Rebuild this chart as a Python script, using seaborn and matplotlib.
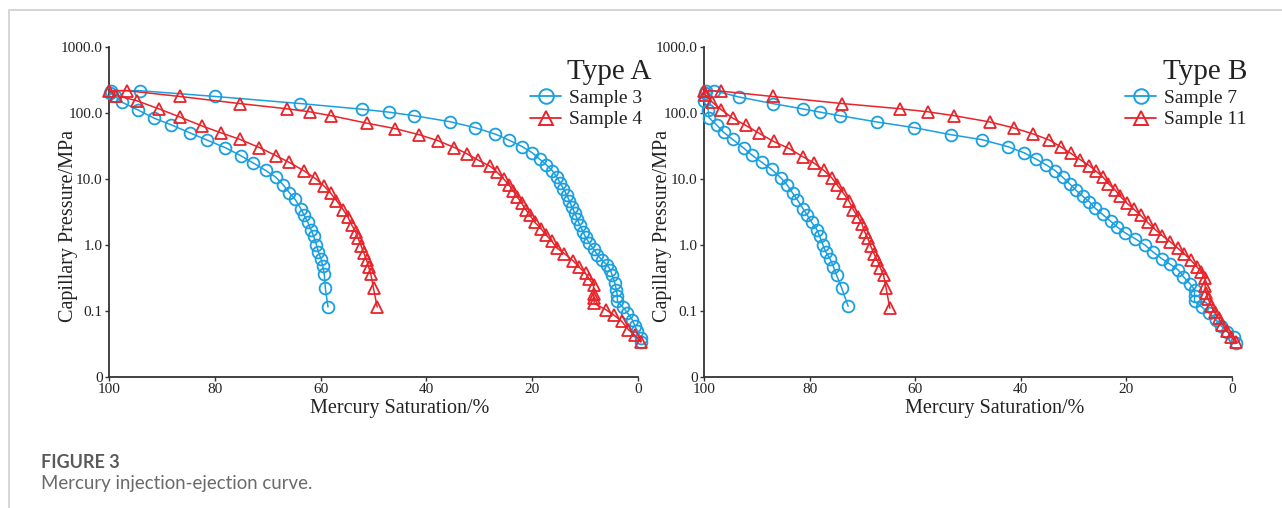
import matplotlib
matplotlib.use("Agg")
import matplotlib.pyplot as plt
from matplotlib.lines import Line2D
import seaborn as sns
import pandas as pd

# ---------------- data (saturation %, capillary pressure MPa) ----------------
S3_INJ = [(99.6, 218), (94.2, 218), (79.9, 178), (63.8, 139), (52.1, 114), (47.1, 103),
          (42.3, 91), (35.6, 74), (30.8, 60), (27.0, 48), (24.3, 38.5), (21.9, 31),
          (20.0, 25), (18.6, 20), (17.3, 16.3), (16.2, 13.4), (15.4, 10.8), (14.7, 8.7),
          (14.1, 7.1), (13.5, 5.8), (13.0, 4.7), (12.5, 3.8), (12.0, 3.1), (11.5, 2.5),
          (11.0, 2.0), (10.4, 1.6), (9.9, 1.3), (9.2, 1.07), (8.4, 0.87), (7.7, 0.71),
          (6.8, 0.59), (5.8, 0.49), (5.2, 0.42), (4.9, 0.35), (4.4, 0.27), (4.1, 0.21),
          (3.9, 0.17), (3.9, 0.14), (2.9, 0.115), (2.0, 0.094), (1.1, 0.074), (0.6, 0.060),
          (0.1, 0.049), (-0.5, 0.039), (-0.6, 0.034)]
S3_EJE = [(99.8, 200), (98.8, 178), (97.5, 145), (94.6, 112), (91.4, 83), (88.2, 66),
          (84.7, 50), (81.5, 39), (78.0, 29.8), (75.1, 22.6), (72.7, 17.4), (70.4, 13.5),
          (68.5, 10.7), (67.1, 8.2), (65.9, 6.2), (64.8, 4.9), (63.7, 3.5), (63.1, 2.8),
          (62.4, 2.2), (61.8, 1.7), (61.3, 1.35), (60.8, 1.01), (60.4, 0.78), (59.9, 0.61),
          (59.6, 0.48), (59.3, 0.36), (59.1, 0.22), (58.6, 0.115)]

S4_INJ = [(100, 218), (96.6, 218), (86.6, 178), (75.3, 139), (66.4, 116), (62.0, 104),
          (58.0, 91), (51.2, 70), (45.9, 58), (41.4, 47), (37.8, 38), (34.7, 30),
          (32.3, 24), (30.2, 19.3), (27.9, 15.5), (26.6, 12.6), (25.4, 10.0), (24.4, 8.2),
          (23.6, 6.6), (22.8, 5.3), (22.0, 4.3), (21.2, 3.4), (20.4, 2.8), (19.5, 2.2),
          (18.3, 1.75), (17.3, 1.40), (16.3, 1.15), (15.4, 0.91), (13.9, 0.74), (12.3, 0.58),
          (11.1, 0.46), (9.9, 0.37), (9.3, 0.31), (8.4, 0.25), (8.4, 0.18), (8.3, 0.16),
          (8.3, 0.13), (6.1, 0.105), (4.5, 0.086), (3.1, 0.070), (1.8, 0.052), (0.6, 0.043),
          (-0.5, 0.034)]
S4_EJE = [(98.6, 183), (94.8, 154), (90.5, 115), (86.6, 87), (82.5, 64), (78.8, 50),
          (75.3, 40), (71.6, 30), (68.4, 22.5), (65.9, 17.8), (63.2, 13.4), (61.0, 10.2),
          (59.4, 7.9), (58.1, 6.1), (57.0, 4.7), (55.7, 3.4), (54.9, 2.7), (54.1, 2.0),
          (53.4, 1.6), (52.9, 1.26), (52.3, 0.95), (51.8, 0.75), (51.3, 0.59), (50.9, 0.46),
          (50.5, 0.36), (50.0, 0.22), (49.3, 0.115)]

S7_INJ = [(99.6, 214), (98.1, 218), (93.4, 175), (87.0, 139), (81.2, 115), (78.0, 103),
          (74.2, 91), (67.2, 73), (60.2, 60), (53.3, 47), (47.4, 39.5), (42.5, 31),
          (39.4, 25), (37.1, 20), (35.2, 16.4), (33.5, 13.4), (32.1, 10.7), (30.7, 8.4),
          (29.6, 6.8), (28.3, 5.5), (27.0, 4.5), (25.9, 3.6), (24.5, 2.9), (23.0, 2.3),
          (21.7, 1.86), (20.2, 1.52), (18.3, 1.24), (16.5, 1.0), (15.0, 0.79), (13.3, 0.62),
          (11.7, 0.51), (10.2, 0.42), (9.2, 0.33), (8.0, 0.26), (7.1, 0.21), (7.1, 0.17),
          (7.1, 0.14), (5.7, 0.115), (4.3, 0.092), (3.0, 0.073), (2.0, 0.059), (0.9, 0.048),
          (-0.4, 0.041), (-0.8, 0.033)]
S7_EJE = [(99.8, 200), (100, 150), (99.2, 112), (99.0, 84), (97.6, 66), (96.3, 51),
          (94.6, 40), (92.5, 29.5), (90.9, 23), (89.1, 18), (87.2, 14), (85.5, 10.5),
          (84.3, 8.2), (83.2, 6.1), (82.3, 4.8), (81.2, 3.5), (80.4, 2.8), (79.6, 2.2),
          (78.6, 1.7), (78.1, 1.36), (77.5, 1.01), (76.9, 0.78), (76.1, 0.61), (75.5, 0.47),
          (74.9, 0.35), (73.9, 0.22), (72.7, 0.118)]

S11_INJ = [(100, 218), (96.7, 214), (87.0, 178), (73.8, 139), (62.9, 116), (57.5, 104),
           (52.6, 91), (45.8, 73), (41.2, 59), (37.6, 48), (34.6, 39), (32.4, 30.6),
           (30.5, 24.4), (28.7, 19.5), (27.0, 15.9), (25.7, 13.0), (24.4, 10.6), (23.4, 8.5),
           (22.2, 6.9), (21.2, 5.5), (19.9, 4.3), (18.6, 3.5), (17.3, 2.8), (16.0, 2.2),
           (14.6, 1.73), (13.2, 1.38), (11.7, 1.12), (10.3, 0.90), (9.0, 0.73), (7.8, 0.59),
           (6.7, 0.47), (5.8, 0.39), (5.1, 0.32), (5.1, 0.24), (4.9, 0.19), (4.5, 0.15),
           (3.9, 0.12), (3.3, 0.097), (2.5, 0.077), (1.8, 0.062), (0.9, 0.050), (0.2, 0.041),
           (-0.7, 0.034)]
S11_EJE = [(99.8, 190), (98.4, 145), (96.7, 112), (94.6, 84), (92.1, 65), (89.5, 49),
           (86.8, 37), (83.9, 29), (81.2, 21.6), (79.2, 17.5), (77.3, 13.5), (75.8, 10.4),
           (74.8, 8.2), (73.6, 6.1), (72.6, 4.7), (71.7, 3.4), (70.9, 2.7), (70.1, 2.1),
           (69.6, 1.6), (69.0, 1.27), (68.4, 0.95), (67.8, 0.74), (67.2, 0.59), (66.6, 0.45),
           (66.0, 0.35), (65.5, 0.22), (64.8, 0.11)]

X_TICKS = [100, 80, 60, 40, 20, 0]
Y_TICKS = [0.01, 0.1, 1, 10, 100, 1000]
Y_TICK_LABELS = ["0", "0.1", "1.0", "10.0", "100.0", "1000.0"]
PANELS = [("Type A", [("Sample 3", S3_INJ, S3_EJE), ("Sample 4", S4_INJ, S4_EJE)]),
          ("Type B", [("Sample 7", S7_INJ, S7_EJE), ("Sample 11", S11_INJ, S11_EJE)])]

BLUE = "#1aa0e0"
RED = "#e8232a"
STYLES = [(BLUE, "o"), (RED, "^")]

# ---------------- figure ----------------
sns.set_theme(style="white")
plt.rcParams["font.family"] = ["Liberation Serif", "DejaVu Serif"]

W, H = 1282, 508
fig = plt.figure(figsize=(W / 100, H / 100), dpi=100)
fig.patch.set_facecolor("white")

axes_px = [(109, 638), (704, 1232)]
top_px, bot_px = 47, 377

def fx(px):
    return px / W

def fy(py):
    return 1 - py / H

for (title, samples), (l, r), leg_x, title_x in zip(
        PANELS, axes_px, [530, 1125], [651, 1247]):
    ax = fig.add_axes([fx(l), fy(bot_px), fx(r) - fx(l), fy(top_px) - fy(bot_px)])
    ax.set_facecolor("white")
    handles = []
    for (name, inj, eje), (col, mk) in zip(samples, STYLES):
        pts = list(reversed(inj)) + eje
        df = pd.DataFrame(pts, columns=["sat", "p"])
        sns.lineplot(data=df, x="sat", y="p", sort=False, estimator=None, ax=ax,
                     color=col, linewidth=1.1, marker=mk, markersize=8.5 if mk == "o" else 9,
                     markerfacecolor="none", markeredgecolor=col, markeredgewidth=1.3,
                     legend=False, clip_on=False, zorder=3)
        handles.append(Line2D([0], [0], color=col, linewidth=1.3, marker=mk,
                              markersize=10.5, markerfacecolor="none",
                              markeredgecolor=col, markeredgewidth=1.4))
    ax.set_yscale("log")
    ax.set_ylim(0.01, 1000)
    ax.set_xlim(100, 0)
    ax.set_xticks(X_TICKS)
    ax.set_xticklabels([str(v) for v in X_TICKS])
    ax.set_yticks(Y_TICKS)
    ax.set_yticklabels(Y_TICK_LABELS)
    ax.minorticks_off()
    ax.tick_params(axis="both", which="major", direction="out", length=3, width=1,
                   color="#333333", labelsize=11, labelcolor="#222222", pad=1.5,
                   left=True, bottom=True)
    for s in ["top", "right"]:
        ax.spines[s].set_visible(False)
    for s in ["left", "bottom"]:
        ax.spines[s].set_color("#333333")
        ax.spines[s].set_linewidth(1.3)
    ax.set_xlabel("Mercury Saturation/%", fontsize=14.5, color="#222222")
    ax.set_ylabel("Capillary Pressure/MPa", fontsize=14.5, color="#222222")
    w_px = r - l
    h_px = bot_px - top_px
    ax.xaxis.set_label_coords(0.55, -(408 - bot_px) / h_px)
    ax.yaxis.set_label_coords(-41 / w_px, (bot_px - 226) / h_px)
    ax.xaxis.label.set_va("center")
    ax.yaxis.label.set_va("center")
    ax.grid(False)

    fig.text(fx(title_x), fy(72), title, ha="right", va="center", fontsize=21,
             color="#222222")
    fig.legend(handles, [n for n, _, _ in samples], loc="upper left",
               bbox_to_anchor=(fx(leg_x), fy(89)), frameon=False, fontsize=14,
               handlelength=1.6, handletextpad=0.4, labelspacing=0.22, borderpad=0,
               borderaxespad=0, labelcolor="#222222")

# caption
fig.text(fx(41), fy(463), "FIGURE 3", fontsize=13, fontweight="bold", color="#5a5a5a",
         family=["Lato", "DejaVu Sans"], va="center", ha="left")
fig.text(fx(41), fy(484), "Mercury injection-ejection curve.", fontsize=13.4,
         color="#6a6a6a", family=["Lato", "DejaVu Sans"], va="center", ha="left")

# page frame lines
fig.add_artist(Line2D([fx(9), 1], [fy(9.5), fy(9.5)], color="#d5d5d5", linewidth=1.4,
                      transform=fig.transFigure))
fig.add_artist(Line2D([fx(9), fx(9)], [fy(9.5), 0], color="#d5d5d5", linewidth=1.4,
                      transform=fig.transFigure))

fig.savefig("out.png", dpi=100, facecolor="white")
